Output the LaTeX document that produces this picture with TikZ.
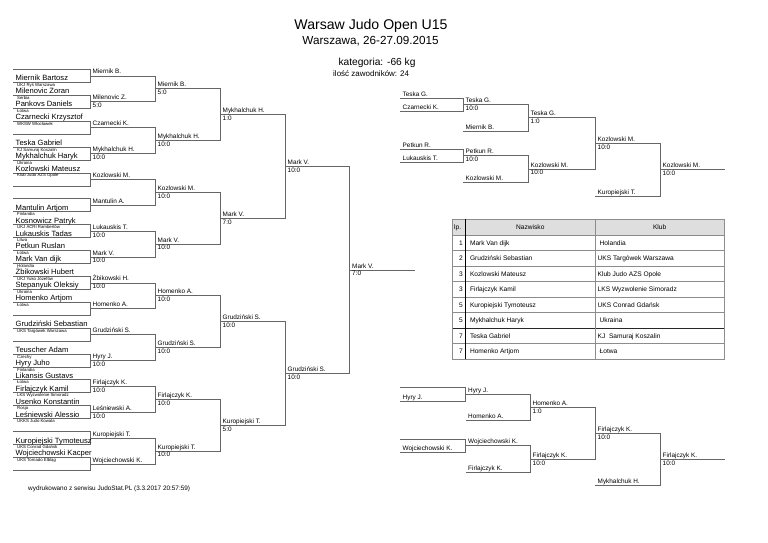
\documentclass[tikz,border=0pt]{standalone}
\usepackage{fontspec}
\setmainfont{Liberation Sans}
\begin{document}
\begin{tikzpicture}[x=1pt,y=-1pt,
  br/.style={draw=black!60, line width=0.9pt},
  pn/.style={anchor=base west, inner sep=0pt, font=\fontsize{7.6}{8}\selectfont},
  cl/.style={anchor=base west, inner sep=0pt, font=\fontsize{4.3}{5}\selectfont},
  lb/.style={anchor=base west, inner sep=0pt, font=\fontsize{6.4}{7}\selectfont},
  tt/.style={inner sep=0pt, font=\fontsize{6.6}{7}\selectfont},
  tl/.style={draw=black!45, line width=0.8pt}]
\useasboundingbox (0,0) rectangle (768,543);
\def\U{25.87}
% round-1 box
\newcommand\rbox[5]{%
  \pgfmathsetmacro\ty{69.5+\U*#1}%
  \pgfmathsetmacro\by{\ty+13}%
  \draw[br] (13,\ty) -- (90,\ty) -- (90,\by) -- (13,\by);
  \node[pn] (p#1a) at (15.5,\ty-1.6) {#2};
  \node[cl] (c#1a) at (17,\ty+4) {#3};
  \node[pn] (p#1b) at (15.5,\by-1.6) {#4};
  \node[cl] (c#1b) at (17,\by+4) {#5};
}
% generic bracket box
\newcommand\bbox[8]{%
  \pgfmathsetmacro\ya{#3}%
  \pgfmathsetmacro\yb{#4}%
  \draw[br] (#1,\ya) -- (#2,\ya) -- (#2,\yb) -- (#1,\yb);
  \node[lb] at (#1+2.5,\ya-2) {#5};
  \node[lb] at (#1+2.5,\ya+5.8) {#6};
  \node[lb] at (#1+2.5,\yb-2) {#7};
  \node[lb] at (#1+2.5,\yb+5.8) {#8};
}
% titles
\node[inner sep=0pt, anchor=base, font=\fontsize{14.1}{15}\selectfont] (title) at (371,29.3) {Warsaw Judo Open U15};
\node[inner sep=0pt, anchor=base, font=\fontsize{11.7}{13}\selectfont] (sub) at (370.5,44.3) {Warszawa, 26-27.09.2015};
\node[inner sep=0pt, anchor=base, font=\fontsize{10.2}{12}\selectfont] (kat) at (377,66) {kategoria: -66 kg};
\node[inner sep=0pt, anchor=base west, font=\fontsize{8}{9}\selectfont] (ilosc) at (333,76.7) {ilość zawodników: 24};
% round 1
\rbox{0}{}{}{Miernik Bartosz}{UKJ Ryś Warszawa}
\rbox{1}{Milenovic Zoran}{Serbia}{Pankovs Daniels}{Łotwa}
\rbox{2}{Czarnecki Krzysztof}{WKSW Włocławek}{}{}
\rbox{3}{Teska Gabriel}{KJ Samuraj Koszalin}{Mykhalchuk Haryk}{Ukraina}
\rbox{4}{Kozlowski Mateusz}{Klub Judo AZS Opole}{}{}
\rbox{5}{}{}{Mantulin Artjom}{Finlandia}
\rbox{6}{Kosnowicz Patryk}{UKJ ACRI Rambertów}{Lukauskis Tadas}{Litwa}
\rbox{7}{Petkun Ruslan}{Łotwa}{Mark Van dijk}{Holandia}
\rbox{8}{Żbikowski Hubert}{UKJ Yuko Józefów}{Stepanyuk Oleksiy}{Ukraina}
\rbox{9}{Homenko Artjom}{Łotwa}{}{}
\rbox{10}{Grudziński Sebastian}{UKS Targówek Warszawa}{}{}
\rbox{11}{Teuscher Adam}{Czechy}{Hyry Juho}{Finlandia}
\rbox{12}{Likansis Gustavs}{Łotwa}{Firlajczyk Kamil}{LKS Wyzwolenie Simoradz}
\rbox{13}{Usenko Konstantin}{Rosja}{Leśniewski Alessio}{UKKS Judo Kowala}
\rbox{14}{}{}{Kuropiejski Tymoteusz}{UKS Conrad Gdańsk}
\rbox{15}{Wojciechowski Kacper}{UKS Tornado Elbląg}{}{}
% round 2
\bbox{90}{155}{76+\U*0}{76+\U*1}{Miernik B.}{}{Milenovic Z.}{5:0}
\bbox{90}{155}{76+\U*2}{76+\U*3}{Czarnecki K.}{}{Mykhalchuk H.}{10:0}
\bbox{90}{155}{76+\U*4}{76+\U*5}{Kozlowski M.}{}{Mantulin A.}{}
\bbox{90}{155}{76+\U*6}{76+\U*7}{Lukauskis T.}{10:0}{Mark V.}{10:0}
\bbox{90}{155}{76+\U*8}{76+\U*9}{Żbikowski H.}{10:0}{Homenko A.}{}
\bbox{90}{155}{76+\U*10}{76+\U*11}{Grudziński S.}{}{Hyry J.}{10:0}
\bbox{90}{155}{76+\U*12}{76+\U*13}{Firlajczyk K.}{10:0}{Leśniewski A.}{10:0}
\bbox{90}{155}{76+\U*14}{76+\U*15}{Kuropiejski T.}{}{Wojciechowski K.}{}
% round 3
\bbox{155}{220}{76+\U*0.5}{76+\U*2.5}{Miernik B.}{5:0}{Mykhalchuk H.}{10:0}
\bbox{155}{220}{76+\U*4.5}{76+\U*6.5}{Kozlowski M.}{10:0}{Mark V.}{10:0}
\bbox{155}{220}{76+\U*8.5}{76+\U*10.5}{Homenko A.}{10:0}{Grudziński S.}{10:0}
\bbox{155}{220}{76+\U*12.5}{76+\U*14.5}{Firlajczyk K.}{10:0}{Kuropiejski T.}{10:0}
% round 4
\bbox{220}{285}{76+\U*1.5}{76+\U*5.5}{Mykhalchuk H.}{1:0}{Mark V.}{7:0}
\bbox{220}{285}{76+\U*9.5}{76+\U*13.5}{Grudziński S.}{10:0}{Kuropiejski T.}{5:0}
% round 5
\bbox{285}{349.5}{76+\U*3.5}{76+\U*11.5}{Mark V.}{10:0}{Grudziński S.}{10:0}
% final
\coordinate (f1) at (349.5,270);
\coordinate (f2) at (415,270);
\draw[br] (f1) -- (f2);
\node[lb] (fin) at (352,268) {Mark V.};
\node[lb] (fins) at (352,275.8) {7:0};
% repechage top
\bbox{400}{463}{98}{111.5}{Teska G.}{}{Czarnecki K.}{}
\bbox{463}{528}{104.75}{131}{Teska G.}{10:0}{Miernik B.}{}
\bbox{400}{463}{149}{162.5}{Petkun R.}{}{Lukauskis T.}{}
\bbox{463}{528}{155.75}{182.5}{Petkun R.}{10:0}{Kozlowski M.}{}
\bbox{528}{595}{117.9}{169.1}{Teska G.}{1:0}{Kozlowski M.}{10:0}
\bbox{595}{660}{143.5}{196}{Kozlowski M.}{10:0}{Kuropiejski T.}{}
\coordinate (rt1) at (660,169.75);
\coordinate (rt2) at (725,169.75);
\draw[br] (rt1) -- (rt2);
\node[lb] (rtn) at (662.5,167.75) {Kozlowski M.};
\node[lb] (rts) at (662.5,175.55) {10:0};
% repechage bottom
\bbox{400}{465.5}{387}{401}{}{}{Hyry J.}{}
\bbox{465.5}{530}{394}{420.7}{Hyry J.}{}{Homenko A.}{}
\bbox{400}{465.5}{439.5}{452.3}{}{}{Wojciechowski K.}{}
\bbox{465.5}{530}{445.9}{472.7}{Wojciechowski K.}{}{Firlajczyk K.}{}
\bbox{530}{595}{407.4}{459.3}{Homenko A.}{1:0}{Firlajczyk K.}{10:0}
\bbox{595}{660}{433.4}{485.7}{Firlajczyk K.}{10:0}{Mykhalchuk H.}{}
\coordinate (rb1) at (660,459.5);
\coordinate (rb2) at (725,459.5);
\draw[br] (rb1) -- (rb2);
\node[lb] (rbn) at (662.5,457.5) {Firlajczyk K.};
\node[lb] (rbs) at (662.5,465.3) {10:0};
% table
\fill[black!13] (452.3,219) rectangle (724.3,235);
\foreach \r in {1,...,7} {\draw[tl] (452.3,235+15.5*\r) -- (724.3,235+15.5*\r);}
\draw[tl] (452.3,235) -- (724.3,235);
\draw[black!85, line width=1pt] (452.3,328) -- (724.3,328);
\draw[tl] (452.3,219) rectangle (724.3,359);
\draw[tl] (595,219) -- (595,359);
\draw[black, line width=1.3pt] (465.7,219) -- (465.7,359);
\node[tt, anchor=base west] (hlp) at (454,229.5) {lp.};
\node[tt, anchor=base] (hnaz) at (530.3,229.5) {Nazwisko};
\node[tt, anchor=base] (hklub) at (659.6,229.5) {Klub};
\newcommand\trow[4]{%
  \pgfmathsetmacro\rb{235+15.5*(#1-1)+10.2}%
  \node[tt, anchor=base east] at (463,\rb) {#2};
  \node[tt, anchor=base west] at (469.8,\rb) {#3};
  \node[tt, anchor=base west] at (597.5,\rb) {#4};
}
\trow{1}{1}{Mark Van dijk}{\hspace{2pt}Holandia}
\trow{2}{2}{Grudziński Sebastian}{UKS Targówek Warszawa}
\trow{3}{3}{Kozlowski Mateusz}{Klub Judo AZS Opole}
\trow{4}{3}{Firlajczyk Kamil}{LKS Wyzwolenie Simoradz}
\trow{5}{5}{Kuropiejski Tymoteusz}{UKS Conrad Gdańsk}
\trow{6}{5}{Mykhalchuk Haryk}{\hspace{2pt}Ukraina}
\trow{7}{7}{Teska Gabriel}{KJ\ \ Samuraj Koszalin}
\trow{8}{7}{Homenko Artjom}{\hspace{2pt}Łotwa}
% footer
\node[lb] (foot) at (28,490) {wydrukowano z serwisu JudoStat.PL (3.3.2017 20:57:59)};
\end{tikzpicture}
\end{document}
